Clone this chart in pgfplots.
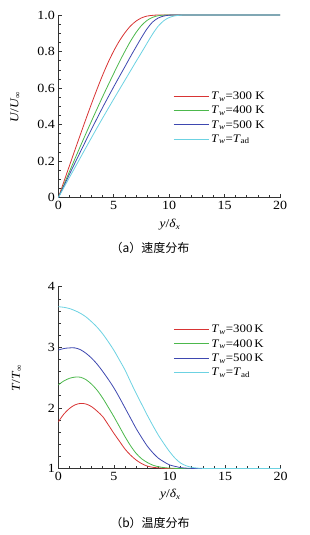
\documentclass[border=0pt]{standalone}
\usepackage{fontspec}
\setmainfont{Liberation Serif}[FakeStretch=1.12]
\newfontfamily\cjk{Noto Sans CJK SC}
\usepackage{pgfplots}
\pgfplotsset{compat=1.18}
\definecolor{cR}{RGB}{216,52,52}
\definecolor{cG}{RGB}{76,184,76}
\definecolor{cB}{RGB}{62,72,176}
\definecolor{cC}{RGB}{108,210,226}
\pgfplotsset{
  common/.style={
    scale only axis,
    anchor=origin,
    xmin=0, xmax=20,
    axis x line*=bottom, axis y line*=left,
    axis line style={line width=0.7pt, black!80},
    tick align=inside,
    tick style={line width=0.6pt, black!80},
    major tick length=4pt, minor tick length=2.5pt,
    xtick={0,5,10,15,20}, minor x tick num=4,
    /pgf/number format/assume math mode=true,
    tick label style={font=\fontsize{12.5}{14}\selectfont},
    label style={font=\fontsize{12}{14}\selectfont},
    xlabel={\textit{y}/\textit{δ}\textsubscript{\textit{x}}},
    legend style={draw=none, fill=none, inner sep=0pt, font=\fontsize{11.5}{12.5}\selectfont,
      row sep=1pt, anchor=north west},
    legend cell align=left,
    legend image code/.code={\draw[#1, line width=1pt] (0pt,0pt) -- (35pt,0pt);},
    every axis plot/.append style={line width=0.8pt, smooth, tension=0.5},
  }
}
\begin{document}
\begin{tikzpicture}
\path[use as bounding box] (0,0) rectangle (310pt,535pt);
% ---------- (a) velocity ----------
\begin{axis}[common,
  at={(58.3pt,337.3pt)}, width=221.7pt, height=182.7pt,
  ymin=0, ymax=1,
  ytick={0,0.2,0.4,0.6,0.8,1.0}, yticklabels={0,0.2,0.4,0.6,0.8,1.0},
  minor y tick num=3,
  ylabel={\textit{U}/\textit{U}\textsubscript{∞}},
  ylabel style={at={(axis description cs:-0.194,0.496)}, anchor=center},
  xlabel style={at={(axis description cs:0.504,-0.149)}, anchor=center},
  legend style={at={(axis description cs:0.517,0.59)}},
]
\addplot[cR] coordinates {(0,0) (0.5,0.087) (1,0.174) (1.5,0.261) (2,0.347) (2.5,0.432) (3,0.515) (3.5,0.595) (4,0.671) (4.5,0.741) (5,0.803) (5.5,0.857) (6,0.902) (6.5,0.939) (7,0.966) (7.5,0.984) (8,0.994) (8.5,0.998) (9,1.0) (10,1.0) (20,1.0)};
\addlegendentry{\textit{T}\textsubscript{\textit{w}}=300 K}
\addplot[cG] coordinates {(0,0) (0.5,0.071) (1,0.142) (1.5,0.213) (2,0.283) (2.5,0.352) (3,0.42) (3.5,0.487) (4,0.553) (4.5,0.617) (5,0.68) (5.5,0.742) (6,0.8) (6.5,0.855) (7,0.903) (7.5,0.942) (8,0.97) (8.5,0.987) (9,0.996) (9.5,0.999) (10,1.0) (11,1.0) (20,1.0)};
\addlegendentry{\textit{T}\textsubscript{\textit{w}}=400 K}
\addplot[cB] coordinates {(0,0) (0.5,0.0635) (1,0.127) (1.5,0.19) (2,0.252) (2.5,0.314) (3,0.375) (3.5,0.435) (4,0.494) (4.5,0.551) (5,0.607) (5.5,0.662) (6,0.716) (6.5,0.771) (7,0.824) (7.5,0.876) (8,0.924) (8.5,0.961) (9,0.983) (9.5,0.994) (10,0.999) (10.5,1.0) (11.5,1.0) (20,1.0)};
\addlegendentry{\textit{T}\textsubscript{\textit{w}}=500 K}
\addplot[cC] coordinates {(0,0) (0.5,0.055) (1,0.11) (1.5,0.165) (2,0.22) (2.5,0.275) (3,0.329) (3.5,0.383) (4,0.436) (4.5,0.488) (5,0.54) (5.5,0.591) (6,0.642) (6.5,0.693) (7,0.744) (7.5,0.794) (8,0.845) (8.5,0.895) (9,0.938) (9.5,0.968) (10,0.986) (10.5,0.995) (11,0.999) (11.5,1.0) (12.5,1.0) (20,1.0)};
\addlegendentry{\textit{T}\textsubscript{\textit{w}}=\textit{T}\textsubscript{ad}}
\end{axis}
\node[font=\cjk\fontsize{12}{14}\selectfont] at (150pt,287pt) {（a）速度分布};
% ---------- (b) temperature ----------
\begin{axis}[common,
  at={(58.3pt,66.5pt)}, width=222.4pt, height=181.8pt,
  ymin=1, ymax=4,
  ytick={1,2,3,4}, minor y tick num=4,
  ylabel={\textit{T}/\textit{T}\textsubscript{∞}},
  ylabel style={at={(axis description cs:-0.187,0.498)}, anchor=center},
  xlabel style={at={(axis description cs:0.504,-0.146)}, anchor=center},
  legend style={at={(axis description cs:0.517,0.80)}},
]
\addplot[cR] coordinates {(0,1.77) (0.5,1.898) (1,1.99) (1.5,2.05) (2,2.074) (2.5,2.064) (3,2.02) (3.5,1.945) (4,1.855) (4.5,1.72) (5,1.58) (5.5,1.45) (6,1.32) (6.5,1.22) (7,1.14) (7.5,1.08) (8,1.04) (8.5,1.02) (9,1.01) (9.5,1.003) (10,1.0) (11,1.0) (20,1.0)};
\addlegendentry{\textit{T}\textsubscript{\textit{w}}=300\,K}
\addplot[cG] coordinates {(0,2.38) (0.5,2.445) (1,2.488) (1.5,2.508) (2,2.506) (2.5,2.465) (3,2.39) (3.5,2.29) (4,2.16) (4.5,2.01) (5,1.855) (5.5,1.69) (6,1.525) (6.5,1.375) (7,1.25) (7.5,1.16) (8,1.1) (8.5,1.055) (9,1.03) (9.5,1.015) (10,1.007) (10.5,1.002) (11,1.0) (12,1.0) (20,1.0)};
\addlegendentry{\textit{T}\textsubscript{\textit{w}}=400\,K}
\addplot[cB] coordinates {(0,2.955) (0.5,2.98) (1,2.99) (1.5,2.99) (2,2.96) (2.5,2.9) (3,2.82) (3.5,2.72) (4,2.6) (4.5,2.47) (5,2.33) (5.5,2.17) (6,2.0) (6.5,1.83) (7,1.66) (7.5,1.51) (8,1.37) (8.5,1.26) (9,1.17) (9.5,1.11) (10,1.06) (10.5,1.035) (11,1.015) (11.5,1.006) (12,1.002) (12.5,1.0) (13.5,1.0) (20,1.0)};
\addlegendentry{\textit{T}\textsubscript{\textit{w}}=500\,K}
\addplot[cC] coordinates {(0,3.67) (0.5,3.66) (1,3.64) (1.5,3.605) (2,3.56) (2.5,3.5) (3,3.42) (3.5,3.33) (4,3.22) (4.5,3.09) (5,2.95) (5.5,2.79) (6,2.625) (6.5,2.43) (7,2.24) (7.5,2.06) (8,1.88) (8.5,1.71) (9,1.55) (9.5,1.41) (10,1.28) (10.5,1.17) (11,1.09) (11.5,1.045) (12,1.02) (12.5,1.007) (13,1.002) (13.5,1.0) (14.5,1.0) (20,1.0)};
\addlegendentry{\textit{T}\textsubscript{\textit{w}}=\textit{T}\textsubscript{ad}}
\end{axis}
\node[font=\cjk\fontsize{12}{14}\selectfont] at (150pt,12.3pt) {（b）温度分布};
\end{tikzpicture}
\end{document}
